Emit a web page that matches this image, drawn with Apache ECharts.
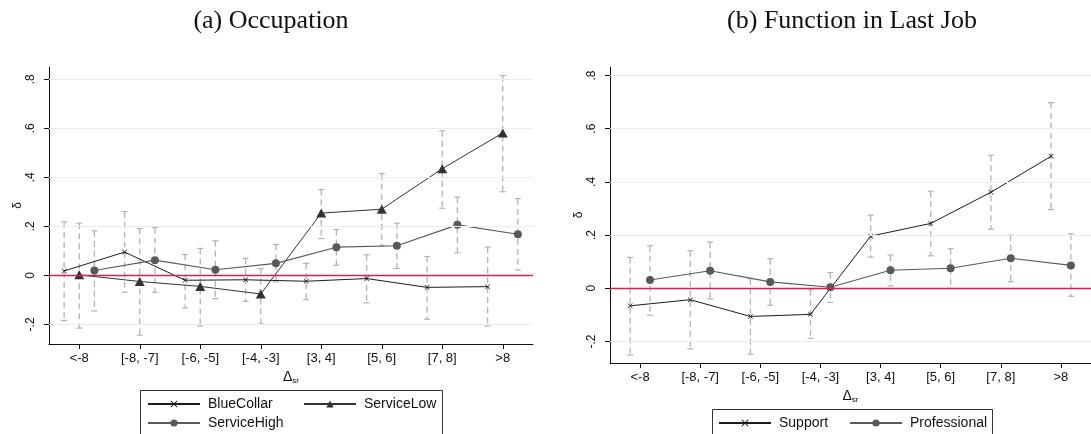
<!DOCTYPE html>
<html>
<head>
<meta charset="utf-8">
<script src="https://cdn.jsdelivr.net/npm/echarts@6/dist/echarts.min.js"></script>
<style>
  html, body { margin: 0; padding: 0; background: #fff; }
  #chart { width: 1091px; height: 434px; }
</style>
</head>
<body>
<div id="chart"></div>
<script>
// Category labels along the horizontal axis (Δsr bins)
const categories = ['<-8', '[-8, -7]', '[-6, -5]', '[-4, -3]', '[3, 4]', '[5, 6]', '[7, 8]', '>8'];
const yTickValues = [-0.2, 0, 0.2, 0.4, 0.6, 0.8];

// (a) Occupation: point estimates and confidence bounds
const blueCollar    = [0.018, 0.095, -0.020, -0.018, -0.024, -0.013, -0.049, -0.046];
const blueCollarLo  = [-0.184, -0.069, -0.133, -0.106, -0.099, -0.112, -0.179, -0.207];
const blueCollarHi  = [0.218, 0.260, 0.085, 0.069, 0.049, 0.084, 0.077, 0.115];
const serviceLow    = [0.002, -0.025, -0.045, -0.076, 0.254, 0.270, 0.435, 0.581];
const serviceLowLo  = [-0.215, -0.244, -0.207, -0.198, 0.150, 0.121, 0.274, 0.341];
const serviceLowHi  = [0.213, 0.191, 0.110, 0.028, 0.350, 0.415, 0.590, 0.815];
const serviceHigh   = [0.020, 0.062, 0.023, 0.049, 0.115, 0.121, 0.206, 0.168];
const serviceHighLo = [-0.145, -0.069, -0.095, -0.027, 0.041, 0.028, 0.092, 0.022];
const serviceHighHi = [0.182, 0.195, 0.141, 0.126, 0.187, 0.213, 0.319, 0.313];

// (b) Function in last job
const support        = [-0.066, -0.043, -0.106, -0.098, 0.196, 0.244, 0.361, 0.496];
const supportLo      = [-0.251, -0.228, -0.248, -0.188, 0.117, 0.122, 0.222, 0.296];
const supportHi      = [0.116, 0.141, 0.036, -0.006, 0.275, 0.365, 0.500, 0.698];
const professional   = [0.031, 0.066, 0.024, 0.004, 0.068, 0.075, 0.113, 0.086];
const professionalLo = [-0.101, -0.040, -0.064, -0.053, 0.009, 0.000, 0.025, -0.030];
const professionalHi = [0.160, 0.174, 0.111, 0.059, 0.125, 0.149, 0.200, 0.205];

const SANS = '"Liberation Sans", Arial, Helvetica, sans-serif';
const SERIF = '"Liberation Serif", "Times New Roman", serif';
const ERR_COLOR = '#b3b3b3';
const ZERO_COLOR = '#d3214c';
const GRID_COLOR = '#e6eeee';

// Small cross marker drawn as a filled outline
const CROSS = 'path://M0,1L1,0L5,4L9,0L10,1L6,5L10,9L9,10L5,6L1,10L0,9L4,5Z';

function fmtY(v) {
  if (Math.abs(v) < 1e-9) return '0';
  const s = Math.abs(v).toFixed(1).replace(/^0/, '');
  return (v < 0 ? '-' : '') + s;
}

function xAxisFor(gridIndex) {
  const ticks = categories.map((_, i) => i + 1);
  return {
    type: 'value', gridIndex, min: 0.5, max: 8.5,
    name: '{d|Δ}{s|sr}', nameLocation: 'middle', nameGap: 22,
    nameTextStyle: {
      rich: {
        d: { fontFamily: SANS, fontSize: 14, color: '#111' },
        s: { fontFamily: SANS, fontSize: 8, color: '#111', verticalAlign: 'bottom', padding: [7, 0, 0, 0] }
      }
    },
    axisLine: { show: true, onZero: false, lineStyle: { color: '#111', width: 1 } },
    axisTick: { show: true, length: 5, customValues: ticks, lineStyle: { color: '#111' } },
    axisLabel: {
      customValues: ticks, margin: 8, fontFamily: SANS, fontSize: 13, color: '#111',
      formatter: v => categories[Math.round(v) - 1]
    },
    splitLine: { show: false }
  };
}

function yAxisFor(gridIndex, min, max) {
  return {
    type: 'value', gridIndex, min, max,
    name: 'δ', nameLocation: 'middle', nameGap: 23, nameRotate: 90,
    nameTextStyle: { fontFamily: SANS, fontSize: 12, color: '#111' },
    axisLine: { show: true, onZero: false, lineStyle: { color: '#111', width: 1 } },
    axisTick: { show: true, length: 5, customValues: yTickValues, lineStyle: { color: '#111' } },
    axisLabel: {
      customValues: yTickValues, rotate: 90, margin: 12,
      fontFamily: SANS, fontSize: 12, color: '#111', formatter: fmtY
    },
    splitLine: { show: false }
  };
}

// Dashed confidence intervals with short solid caps
function errorSeries(name, gridIndex, offset, lo, hi) {
  return {
    type: 'custom', name, xAxisIndex: gridIndex, yAxisIndex: gridIndex, z: 2,
    encode: { x: 0, y: [1, 2] },
    data: lo.map((l, i) => [i + 1 + offset, l, hi[i]]),
    renderItem: (params, api) => {
      const x = api.value(0);
      const top = api.coord([x, api.value(2)]);
      const bot = api.coord([x, api.value(1)]);
      const w = 3;
      return {
        type: 'group',
        children: [
          { type: 'line', shape: { x1: top[0], y1: top[1], x2: bot[0], y2: bot[1] },
            style: { stroke: ERR_COLOR, lineWidth: 1.3, lineDash: [6, 4] } },
          { type: 'line', shape: { x1: top[0] - w, y1: top[1], x2: top[0] + w, y2: top[1] },
            style: { stroke: ERR_COLOR, lineWidth: 1.2 } },
          { type: 'line', shape: { x1: bot[0] - w, y1: bot[1], x2: bot[0] + w, y2: bot[1] },
            style: { stroke: ERR_COLOR, lineWidth: 1.2 } }
        ]
      };
    }
  };
}

function lineSeries(name, gridIndex, offset, values, color, symbol, symbolSize, width) {
  return {
    type: 'line', name, xAxisIndex: gridIndex, yAxisIndex: gridIndex, z: 4,
    data: values.map((v, i) => [i + 1 + offset, v]),
    symbol, symbolSize, showSymbol: true,
    lineStyle: { color, width },
    itemStyle: { color, borderWidth: 0 }
  };
}

// Light horizontal gridlines plus the red reference line at zero
function referenceSeries(gridIndex) {
  return {
    type: 'line', name: 'ref' + gridIndex, xAxisIndex: gridIndex, yAxisIndex: gridIndex,
    data: [], z: 1, silent: true,
    markLine: {
      silent: true, symbol: 'none', label: { show: false },
      data: [
        ...yTickValues.filter(v => v !== 0).map(v => ({ yAxis: v, lineStyle: { color: GRID_COLOR, width: 1.2, type: 'solid' } })),
        { yAxis: 0, lineStyle: { color: ZERO_COLOR, width: 1.3, type: 'solid' } }
      ]
    }
  };
}

const legendBase = {
  padding: 0, itemWidth: 52, itemHeight: 9, selectedMode: false,
  textStyle: { fontFamily: SANS, fontSize: 14, color: '#111', padding: [0, 0, 0, 3] }
};

const option = {
  animation: false,
  backgroundColor: '#fff',
  grid: [
    { left: 49, top: 67, width: 484, height: 277 },
    { left: 610, top: 67, width: 485, height: 296 }
  ],
  xAxis: [xAxisFor(0), xAxisFor(1)],
  yAxis: [yAxisFor(0, -0.28, 0.85), yAxisFor(1, -0.281, 0.832)],
  legend: [
    Object.assign({}, legendBase, { data: ['BlueCollar', 'ServiceHigh'], orient: 'vertical', left: 147, top: 397, itemGap: 5 }),
    Object.assign({}, legendBase, { data: ['ServiceLow'], orient: 'vertical', left: 303, top: 397, itemGap: 5 }),
    Object.assign({}, legendBase, { data: ['Support', 'Professional'], orient: 'horizontal', left: 718, top: 416, itemGap: 21 })
  ],
  graphic: [
    { type: 'text', x: 271, y: 21, style: { text: '(a) Occupation', font: '26px ' + SERIF, fill: '#111', textAlign: 'center', textVerticalAlign: 'middle' } },
    { type: 'text', x: 852, y: 21, style: { text: '(b) Function in Last Job', font: '26px ' + SERIF, fill: '#111', textAlign: 'center', textVerticalAlign: 'middle' } },
    { type: 'rect', shape: { x: 140.5, y: 390.5, width: 302, height: 60 }, style: { fill: 'none', stroke: '#333', lineWidth: 1 } },
    { type: 'rect', shape: { x: 712.5, y: 409.5, width: 280, height: 40 }, style: { fill: 'none', stroke: '#333', lineWidth: 1 } }
  ],
  series: [
    referenceSeries(0),
    errorSeries('BlueCollar CI', 0, -0.25, blueCollarLo, blueCollarHi),
    errorSeries('ServiceLow CI', 0, 0, serviceLowLo, serviceLowHi),
    errorSeries('ServiceHigh CI', 0, 0.25, serviceHighLo, serviceHighHi),
    lineSeries('BlueCollar', 0, -0.25, blueCollar, '#1c1c1c', CROSS, 5, 1),
    lineSeries('ServiceLow', 0, 0, serviceLow, '#333333', 'triangle', [10, 9], 1),
    lineSeries('ServiceHigh', 0, 0.25, serviceHigh, '#595959', 'circle', 8, 1.1),

    referenceSeries(1),
    errorSeries('Support CI', 1, -0.165, supportLo, supportHi),
    errorSeries('Professional CI', 1, 0.165, professionalLo, professionalHi),
    lineSeries('Support', 1, -0.165, support, '#1c1c1c', CROSS, 5, 1),
    lineSeries('Professional', 1, 0.165, professional, '#595959', 'circle', 8, 1.1)
  ]
};

const chart = echarts.init(document.getElementById('chart'), null, { renderer: 'canvas' });
chart.setOption(option);
</script>
</body>
</html>
